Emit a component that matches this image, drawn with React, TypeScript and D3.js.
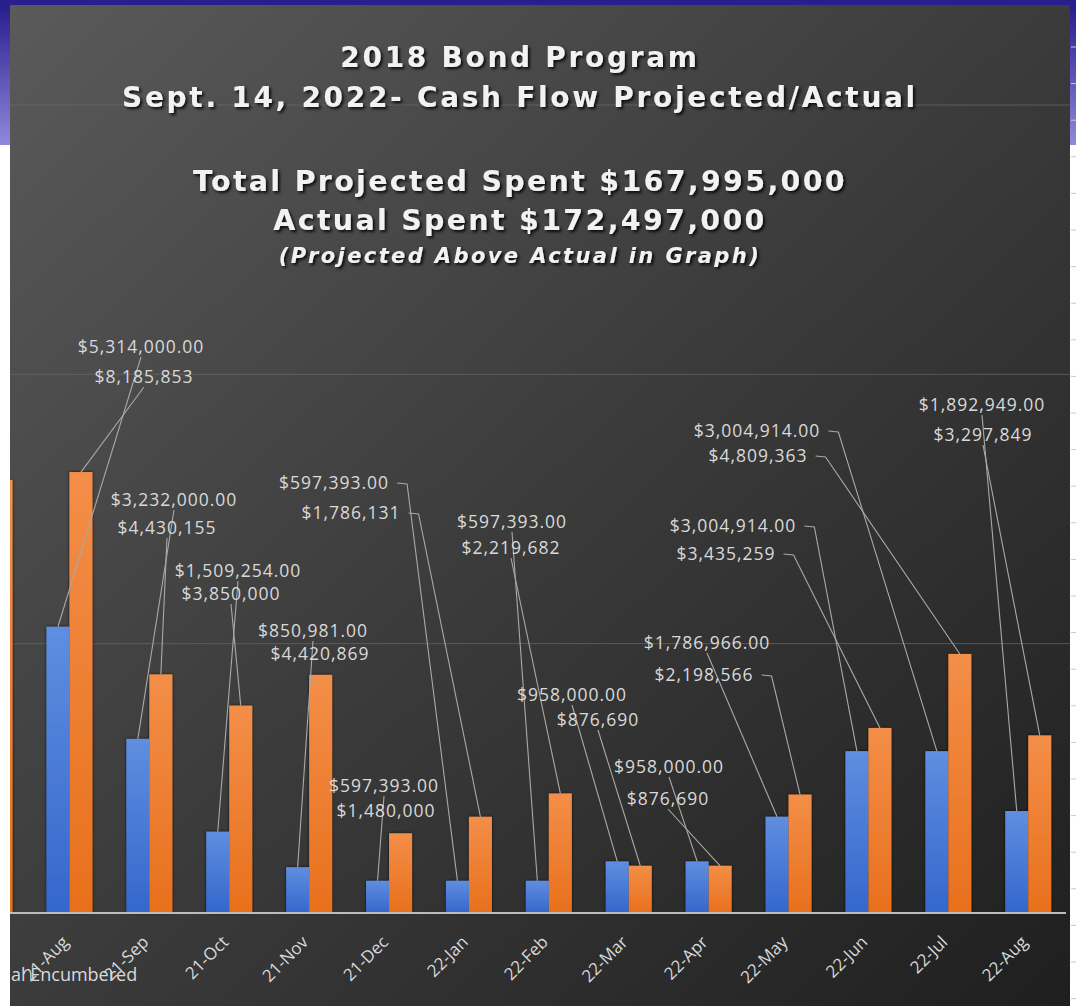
import React, { useEffect, useRef } from 'react';
import * as d3 from 'd3';

// ---------- data ----------
const categories = ['21-Jul', '21-Aug', '21-Sep', '21-Oct', '21-Nov', '21-Dec', '22-Jan', '22-Feb', '22-Mar', '22-Apr', '22-May', '22-Jun', '22-Jul', '22-Aug'];
const projected: (number | null)[] = [null, 5314000, 3232000, 1509254, 850981, 597393, 597393, 597393, 958000, 958000, 1786966, 3004914, 3004914, 1892949];
const actual: (number | null)[] = [8040000, 8185853, 4430155, 3850000, 4420869, 1480000, 1786131, 2219682, 876690, 876690, 2198566, 3435259, 4809363, 3297849];
const gridValues = [5000000, 10000000, 15000000];
const titleLines = ['2018 Bond Program', 'Sept. 14, 2022- Cash Flow Projected/Actual'];
const totalLines = ['Total Projected Spent $167,995,000', 'Actual Spent $172,497,000'];
const noteLine = '(Projected Above Actual in Graph)';
const legendText = 'al Encumbered';

// ---------- label layout (manually placed data labels, like the source chart) ----------
type Lead = 'below' | 'hook' | 'none';
const projLabelLayout: [number, number, Lead][] = [
  [0, 0, 'none'],
  [141, 347, 'below'],
  [174, 500, 'below'],
  [238, 571, 'below'],
  [313, 631, 'below'],
  [384, 786, 'below'],
  [334, 483, 'hook'],
  [512, 522, 'below'],
  [572, 695, 'below'],
  [669, 767, 'below'],
  [707, 643, 'below'],
  [733, 526, 'hook'],
  [757, 431, 'hook'],
  [982, 405, 'below'],
];
const actLabelLayout: [number, number, Lead][] = [
  [0, 0, 'none'],
  [144, 377, 'below'],
  [167, 528, 'below'],
  [231, 594, 'below'],
  [320, 654, 'none'],
  [386, 811, 'none'],
  [351, 513, 'hook'],
  [511, 548, 'below'],
  [598, 720, 'below'],
  [668, 799, 'below'],
  [704, 675, 'hook'],
  [726, 554, 'hook'],
  [758, 456, 'hook'],
  [983, 435, 'below'],
];

const W = 1076;
const H = 1006;

export default function App() {
  const ref = useRef<SVGSVGElement>(null);

  useEffect(() => {
    const svg = d3.select(ref.current!);
    svg.selectAll('*').remove();
    const defs = svg.append('defs');

    const bg = defs.append('linearGradient').attr('id', 'bg').attr('x1', 0).attr('y1', 0).attr('x2', 1).attr('y2', 1);
    bg.append('stop').attr('offset', 0).attr('stop-color', '#5a5a5a');
    bg.append('stop').attr('offset', 0.5).attr('stop-color', '#3b3b3b');
    bg.append('stop').attr('offset', 1).attr('stop-color', '#1f1f1f');

    const side = defs.append('linearGradient').attr('id', 'side').attr('x1', 0).attr('y1', 0).attr('x2', 0).attr('y2', 1);
    side.append('stop').attr('offset', 0).attr('stop-color', '#24188a');
    side.append('stop').attr('offset', 1).attr('stop-color', '#8f89da');

    const gBlue = defs.append('linearGradient').attr('id', 'gBlue').attr('x1', 0).attr('y1', 0).attr('x2', 0).attr('y2', 1);
    gBlue.append('stop').attr('offset', 0).attr('stop-color', '#5f8ee0');
    gBlue.append('stop').attr('offset', 1).attr('stop-color', '#3467cc');
    const gOr = defs.append('linearGradient').attr('id', 'gOr').attr('x1', 0).attr('y1', 0).attr('x2', 0).attr('y2', 1);
    gOr.append('stop').attr('offset', 0).attr('stop-color', '#f38e48');
    gOr.append('stop').attr('offset', 1).attr('stop-color', '#e8701c');

    const sh = defs.append('filter').attr('id', 'tshadow').attr('x', -0.1).attr('y', -0.3).attr('width', 1.2).attr('height', 1.6);
    sh.append('feDropShadow').attr('dx', 2).attr('dy', 2).attr('stdDeviation', 1.5).attr('flood-color', '#000').attr('flood-opacity', 0.85);
    const bsh = defs.append('filter').attr('id', 'bshadow').attr('x', -0.3).attr('y', -0.1).attr('width', 1.6).attr('height', 1.2);
    bsh.append('feDropShadow').attr('dx', 0).attr('dy', 0).attr('stdDeviation', 1.8).attr('flood-color', '#000').attr('flood-opacity', 0.8);

    defs.append('clipPath').attr('id', 'panelClip').append('rect').attr('x', 10).attr('y', 5).attr('width', 1060).attr('height', 1001);

    // page decoration
    svg.append('rect').attr('width', W).attr('height', H).attr('fill', '#ffffff');
    svg.append('rect').attr('x', 0).attr('y', 0).attr('width', 10).attr('height', 145).attr('fill', 'url(#side)');
    svg.append('rect').attr('x', 1070).attr('y', 0).attr('width', 6).attr('height', 145).attr('fill', 'url(#side)');
    svg.append('rect').attr('x', 0).attr('y', 0).attr('width', W).attr('height', 5).attr('fill', '#2a1d8c');
    const tickYs = d3.range(47, H, 36.6);
    svg.append('g').selectAll('line').data(tickYs).join('line')
      .attr('x1', 1071).attr('x2', 1076).attr('y1', (d) => d).attr('y2', (d) => d)
      .attr('stroke', '#c8c8d0').attr('stroke-width', 1);

    // panel
    svg.append('rect').attr('x', 10).attr('y', 5).attr('width', 1060).attr('height', 1001).attr('fill', 'url(#bg)');

    const chart = svg.append('g').attr('clip-path', 'url(#panelClip)');

    const x0 = d3.scaleBand<string>().domain(categories).range([-50.4, 1068.2]).padding(0);
    const x1 = d3.scaleBand<string>().domain(['p', 'a']).range([0, 46]).padding(0);
    const y = d3.scaleLinear().domain([0, 15000000]).range([913, 105]);
    const groupLeft = (c: string) => (x0(c) as number) + x0.bandwidth() / 2 - 23;

    // gridlines
    chart.append('g').selectAll('line').data(gridValues).join('line')
      .attr('x1', 10).attr('x2', 1070).attr('y1', (d) => y(d)).attr('y2', (d) => y(d))
      .attr('stroke', '#6a6a6a').attr('stroke-opacity', 0.7).attr('stroke-width', 1);

    // bars
    type B = { c: string; s: string; v: number; i: number };
    const bars: B[] = [];
    categories.forEach((c, i) => {
      if (projected[i] != null) bars.push({ c, s: 'p', v: projected[i] as number, i });
      if (actual[i] != null) bars.push({ c, s: 'a', v: actual[i] as number, i });
    });
    chart.append('g').attr('filter', 'url(#bshadow)').selectAll('rect').data(bars).join('rect')
      .attr('x', (d) => groupLeft(d.c) + (x1(d.s) as number))
      .attr('width', x1.bandwidth())
      .attr('y', (d) => y(d.v))
      .attr('height', (d) => y(0) - y(d.v))
      .attr('fill', (d) => (d.s === 'p' ? 'url(#gBlue)' : 'url(#gOr)'));

    // baseline
    chart.append('line').attr('x1', 10).attr('x2', 1066).attr('y1', y(0)).attr('y2', y(0))
      .attr('stroke', '#bdbdbd').attr('stroke-width', 2);

    // x labels (only categories whose label lies inside the visible panel)
    const visibleCats = categories.filter((c) => (x0(c) as number) + x0.bandwidth() / 2 > 40);
    chart.append('g').selectAll('text').data(visibleCats).join('text')
      .attr('transform', (c) => `translate(${(x0(c) as number) + x0.bandwidth() / 2 - 4},${y(0) + 26}) rotate(-45)`)
      .attr('text-anchor', 'end').attr('dy', '0.35em')
      .attr('font-family', '"Open Sans", sans-serif').attr('font-size', 17)
      .attr('fill', '#d9d9d9').text((c) => c);

    // data labels + leaders
    const fmtP = d3.format('$,.2f');
    const fmtA = d3.format('$,.0f');
    const leaders = chart.append('g');
    const labels = chart.append('g');
    bars.forEach((b) => {
      const lay = b.s === 'p' ? projLabelLayout[b.i] : actLabelLayout[b.i];
      if (!lay || (lay[0] === 0 && lay[1] === 0)) return;
      const [cx, cy, lead] = lay;
      const t = labels.append('text').attr('x', cx).attr('y', cy).attr('dy', '0.35em')
        .attr('text-anchor', 'middle').attr('font-family', '"Open Sans", sans-serif')
        .attr('font-size', 17.5).attr('letter-spacing', 1).attr('fill', '#d9d9d9')
        .text(b.s === 'p' ? fmtP(b.v) : fmtA(b.v));
      const w = (t.node() as SVGTextElement).getComputedTextLength();
      const bx = groupLeft(b.c) + (x1(b.s) as number) + x1.bandwidth() / 2;
      const by = y(b.v);
      const p = d3.path();
      if (lead === 'below') {
        p.moveTo(cx, cy + 10);
        p.lineTo(bx, by);
      } else if (lead === 'hook') {
        const sx = cx + w / 2 + 8;
        p.moveTo(sx, cy);
        p.lineTo(sx + 10, cy + 1);
        p.lineTo(bx, by);
      } else return;
      leaders.append('path').attr('d', p.toString()).attr('fill', 'none')
        .attr('stroke', '#a9a9a9').attr('stroke-width', 1.1);
    });

    // legend fragment (the rest of the legend lies outside the cropped view)
    chart.append('text').attr('x', 11).attr('y', 975).attr('dy', '0.35em').attr('text-anchor', 'start')
      .attr('font-family', '"Open Sans", sans-serif').attr('font-size', 18).attr('fill', '#d9d9d9')
      .text(legendText);

    // titles
    const tg = svg.append('g').attr('filter', 'url(#tshadow)').attr('fill', '#f2f2f2')
      .attr('font-family', '"DejaVu Sans", sans-serif').attr('font-weight', 'bold').attr('text-anchor', 'middle');
    const cxT = 520;
    titleLines.forEach((s, i) => {
      tg.append('text').attr('x', cxT).attr('y', [57, 97][i]).attr('dy', '0.35em')
        .attr('font-size', 28).attr('letter-spacing', 2.7).text(s);
    });
    totalLines.forEach((s, i) => {
      tg.append('text').attr('x', cxT).attr('y', [181, 220][i]).attr('dy', '0.35em')
        .attr('font-size', 28.5).attr('letter-spacing', 2.3).text(s);
    });
    tg.append('text').attr('x', cxT).attr('y', 256).attr('dy', '0.35em')
      .attr('font-size', 21).attr('font-style', 'italic').attr('letter-spacing', 2.4).text(noteLine);
  }, []);

  return <svg ref={ref} width={W} height={H} style={{ position: 'absolute', left: 0, top: 0, display: 'block' }} />;
}
